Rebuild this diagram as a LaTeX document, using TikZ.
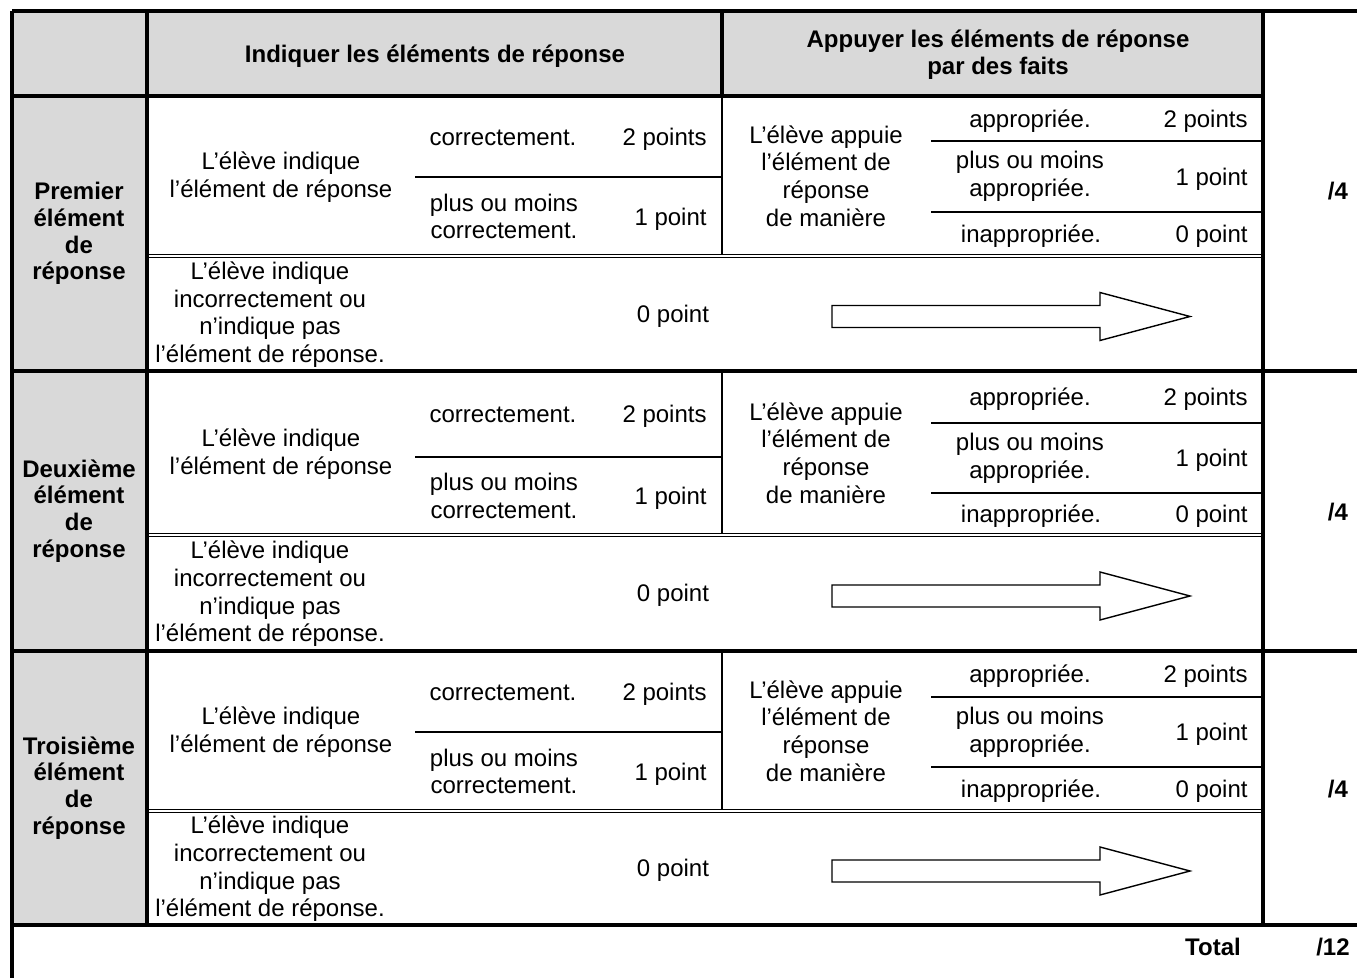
\documentclass[tikz,border=0pt]{standalone}
\usepackage{fontspec}
\setmainfont{Liberation Sans}
\usetikzlibrary{calc}
\definecolor{hdgray}{RGB}{217,217,217}

\tikzset{
  txt/.style={align=center,inner sep=0pt,font=\fontsize{12}{13.8}\selectfont},
  one/.style={txt,text height=11.2pt,text depth=2.4pt},
  pts/.style={one,anchor=east},
  bold/.style={txt,font=\fontsize{12}{13.4}\selectfont\bfseries},
  boldone/.style={bold,text height=11.2pt,text depth=2.4pt},
  thickrule/.style={line width=1.7pt},
  thinrule/.style={line width=0.7pt},
  dblrule/.style={double,double distance=1.1pt,line width=0.65pt},
}

\begin{document}
\begin{tikzpicture}[x=0.5pt,y=-0.5pt]
  \useasboundingbox (0,0) rectangle (1357,978);
  % grey header row and label column
  \fill[hdgray] (12,11) rectangle (1263,96);
  \fill[hdgray] (12,96) rectangle (147,925);
  \node[boldone] (hleft) at (435,54) {Indiquer les éléments de réponse};
  \node[bold] (hright) at (998,55) {Appuyer les éléments de réponse\\par des faits};
  % one block per element
  \foreach \t/\a/\m/\b/\d/\e/\s/\n/\lab in {
      96/141/177/212/256/371/191/one/Premier,
      371/423/457/493/535/651/512/two/Deuxième,
      651/697/732/767/811/925/789/three/Troisième}{
    \draw[thinrule] (415,\m) -- (722,\m);
    \draw[thinrule] (722,\t) -- (722,\d);
    \draw[thinrule] (931,\a) -- (1263,\a);
    \draw[thinrule] (931,\b) -- (1263,\b);
    \draw[dblrule] (147,\d) -- (1263,\d);
    \node[bold] (lab\n) at (79,{(\t+\e)/2}) {\lab\\élément\\de\\réponse};
    \node[txt] (ind\n) at (281,{(\t+\d)/2+1}) {L’élève indique\\l’élément de réponse};
    \node[one] (ok\n) at (503,{(\t+\m)/2}) {correctement.};
    \node[pts] (okp\n) at (707,{(\t+\m)/2}) {2 points};
    \node[txt] (pm\n) at (504,{(\m+\d)/2}) {plus ou moins\\correctement.};
    \node[pts] (pmp\n) at (707,{(\m+\d)/2}) {1 point};
    \node[txt] (app\n) at (826,{(\t+\d)/2}) {L’élève appuie\\l’élément de\\réponse\\de manière};
    \node[one] (ap\n) at (1030,{(\t+\a)/2}) {appropriée.};
    \node[pts] (app\n) at (1248,{(\t+\a)/2}) {2 points};
    \node[txt] (pa\n) at (1030,{(\a+\b)/2}) {plus ou moins\\appropriée.};
    \node[pts] (pap\n) at (1248,{(\a+\b)/2}) {1 point};
    \node[one] (in\n) at (1031,{(\b+\d)/2}) {inappropriée.};
    \node[pts] (inp\n) at (1248,{(\b+\d)/2}) {0 point};
    \node[txt] (no\n) at (270,{(\d+\e)/2+1}) {L’élève indique\\incorrectement ou\\n’indique pas\\l’élément de réponse.};
    \node[one] (nop\n) at (673,{(\d+\e)/2}) {0 point};
    \node[boldone] (sc\n) at (1338,\s) {/4};
    % the arrow
    \draw[thinrule,fill=white,line join=miter]
      (832,{(\d+\e)/2-8}) -- (1100,{(\d+\e)/2-8}) -- (1100,{(\d+\e)/2-21})
      -- (1190,{(\d+\e)/2+3}) -- (1100,{(\d+\e)/2+27}) -- (1100,{(\d+\e)/2+14})
      -- (832,{(\d+\e)/2+14}) -- cycle;
  }
  % heavy rules
  \draw[thickrule] (12,11) -- (1357,11);
  \draw[thickrule] (12,11) -- (12,978);
  \draw[thickrule] (147,11) -- (147,925);
  \draw[thickrule] (722,11) -- (722,96);
  \draw[thickrule] (1263,11) -- (1263,925);
  \draw[thickrule] (12,96) -- (1263,96);
  \foreach \y in {371,651,925}
    \draw[thickrule] (12,\y) -- (1357,\y);
  % total row
  \node[boldone] (total) at (1213,947) {Total};
  \node[boldone] (sctotal) at (1333,947) {/12};
\end{tikzpicture}
\end{document}
